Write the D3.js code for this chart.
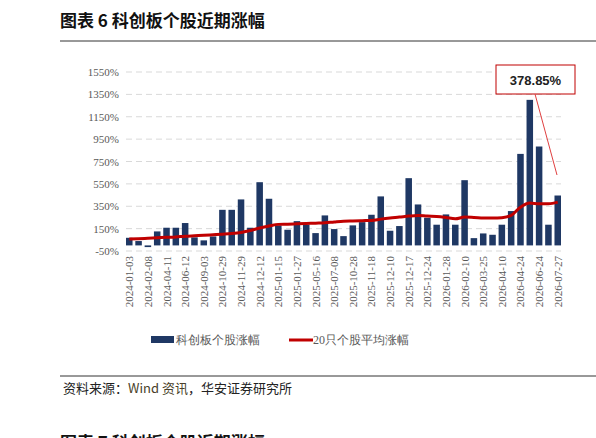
<!DOCTYPE html>
<html><head><meta charset="utf-8">
<script src="https://cdn.jsdelivr.net/npm/d3@7"></script>
<style>body{margin:0;background:#fff}svg{display:block}</style>
</head><body>
<svg id="c" width="596" height="438"></svg>
<script>
// tick labels (every second bar carries a date)
const tickLabels = ['2024-01-03','2024-02-08','2024-04-11','2024-06-12','2024-09-03','2024-10-29','2024-11-29','2024-12-12',
  '2025-01-15','2025-01-27','2025-05-16','2025-07-08','2025-10-28','2025-11-18','2025-12-10','2025-12-17','2025-12-24',
  '2026-01-28','2026-02-10','2026-03-25','2026-04-10','2026-04-24','2026-06-24','2026-07-27'];
const gains = [68,39,-15,125,158,158,200,72,45,80,318,318,411,158,565,417,179,140,217,185,110,268,146,83,179,208,274,438,131,173,601,366,247,185,277,185,583,65,107,95,185,307,818,1301,884,185,446];
const avgGain = [57,60,64,68,72,76,82,86,90,95,100,106,116,134,155,173,188,190,193,196,199,202,210,217,219,221,223,235,245,253,262,268,262,259,250,238,253,250,246,244,247,268,342,378,372,372,387];
const yTicks = [-50,150,350,550,750,950,1150,1350,1550];

const svg = d3.select('#c');
const font = '"Liberation Serif","DejaVu Serif",serif';
const cjk = '"Noto Sans CJK SC",sans-serif';

svg.append('text').attr('x', 60).attr('y', 27).attr('font-family', cjk).attr('font-weight', 'bold')
  .attr('font-size', 17).attr('fill', '#111').text('图表 6 科创板个股近期涨幅');
svg.append('line').attr('x1', 60).attr('x2', 596).attr('y1', 41).attr('y2', 41).attr('stroke', '#333').attr('stroke-width', 1);

const x = d3.scaleBand().domain(d3.range(gains.length)).range([126, 561]).paddingInner(0.3);
const y = d3.scaleLinear().domain([-50, 1550]).range([251, 72]);

const g = svg.append('g');
g.selectAll('.grid').data(yTicks).join('line')
  .attr('x1', 126).attr('x2', 561).attr('y1', d => y(d)).attr('y2', d => y(d))
  .attr('stroke', '#d9d9d9').attr('stroke-dasharray', '6,4');
g.append('g').attr('transform', 'translate(122,0)')
  .call(d3.axisLeft(y).tickValues(yTicks).tickSize(0).tickFormat(d => d + '%'))
  .call(a => a.select('.domain').remove())
  .selectAll('text').attr('font-family', font).attr('font-size', 11).attr('fill', '#595959');

g.selectAll('.bar').data(gains).join('rect')
  .attr('x', (d, i) => x(i)).attr('width', x.bandwidth())
  .attr('y', d => y(Math.max(0, d))).attr('height', d => Math.abs(y(d) - y(0)))
  .attr('fill', '#1f3864');

g.append('path').datum(avgGain)
  .attr('d', d3.line().x((d, i) => x(i) + x.bandwidth() / 2).y(d => y(d)).curve(d3.curveMonotoneX))
  .attr('fill', 'none').attr('stroke', '#c00000').attr('stroke-width', 3);

g.selectAll('.xl').data(tickLabels).join('text')
  .attr('transform', (d, i) => `translate(${x(i * 2) + x.bandwidth() / 2 + 4},256) rotate(-90)`)
  .attr('text-anchor', 'end').attr('font-family', font).attr('font-size', 11).attr('fill', '#595959').text(d => d);

// annotation
svg.append('rect').attr('x', 496).attr('y', 65).attr('width', 79).attr('height', 29)
  .attr('fill', '#fff').attr('stroke', '#c00000').attr('stroke-width', 1);
svg.append('text').attr('x', 535.5).attr('y', 85).attr('text-anchor', 'middle').attr('font-family', 'Arial,"Liberation Sans"')
  .attr('font-size', 13).attr('font-weight', 'bold').attr('fill', '#222').text('378.85%');
svg.append('line').attr('x1', 535).attr('y1', 94).attr('x2', 557).attr('y2', 175).attr('stroke', '#e04040').attr('stroke-width', 1);

// legend
svg.append('rect').attr('x', 151).attr('y', 336).attr('width', 23).attr('height', 7).attr('fill', '#1f3864');
svg.append('text').attr('x', 176).attr('y', 344).attr('font-family', font).attr('font-size', 12).attr('fill', '#595959').text('科创板个股涨幅');
svg.append('line').attr('x1', 289).attr('x2', 313).attr('y1', 340).attr('y2', 340).attr('stroke', '#c00000').attr('stroke-width', 3);
svg.append('text').attr('x', 313).attr('y', 344).attr('font-family', font).attr('font-size', 12).attr('fill', '#595959').text('20只个股平均涨幅');

svg.append('line').attr('x1', 60).attr('x2', 596).attr('y1', 376).attr('y2', 376).attr('stroke', '#333');
svg.append('text').attr('x', 63).attr('y', 393).attr('font-family', cjk).attr('font-size', 13).attr('fill', '#222')
  .selectAll('tspan').data([['资料来源：', '#222'], ['Wind 资讯', '#4a3f2a'], ['，华安证券研究所', '#222']]).join('tspan')
  .attr('fill', d => d[1]).text(d => d[0]);
svg.append('text').attr('x', 60).attr('y', 449).attr('font-family', cjk).attr('font-weight', 'bold')
  .attr('font-size', 17).attr('fill', '#111').text('图表 7 科创板个股近期涨幅');
</script>
</body></html>
